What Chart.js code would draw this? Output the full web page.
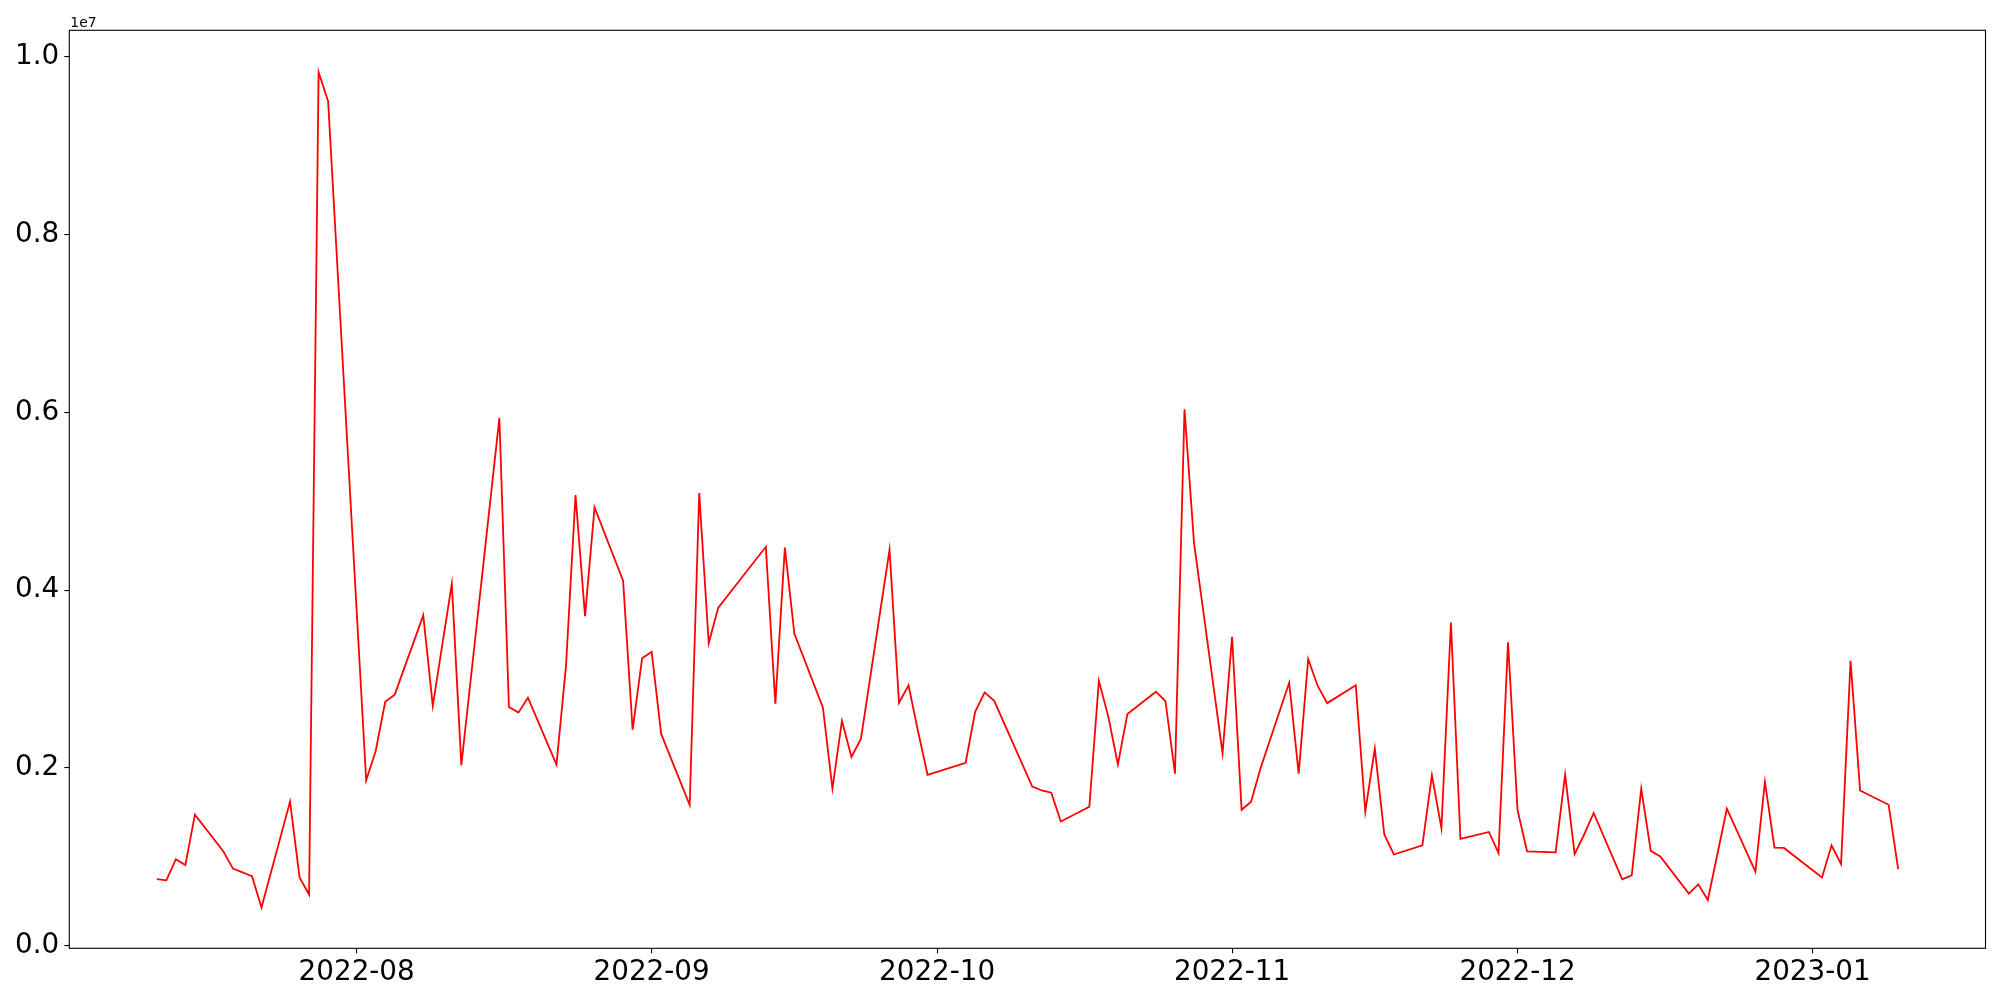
<!DOCTYPE html>
<html>
<head>
<meta charset="utf-8">
<script src="https://cdn.jsdelivr.net/npm/chart.js@4.4.0/dist/chart.umd.min.js"></script>
<style>
  body { margin: 0; background: white; }
  #grafico { display: block; }
</style>
</head>
<body>
<canvas id="grafico" width="2000" height="1000"></canvas>
<script>
// datas (dias úteis) e valores
var datas = [
  '2022-07-11','2022-07-12','2022-07-13','2022-07-14','2022-07-15','2022-07-18','2022-07-19','2022-07-21','2022-07-22',
  '2022-07-25','2022-07-26','2022-07-27','2022-07-28','2022-07-29','2022-08-02','2022-08-03','2022-08-04','2022-08-05',
  '2022-08-08','2022-08-09','2022-08-11','2022-08-12','2022-08-16','2022-08-17','2022-08-18','2022-08-19',
  '2022-08-22','2022-08-23','2022-08-24','2022-08-25','2022-08-26','2022-08-29','2022-08-30','2022-08-31','2022-09-01','2022-09-02',
  '2022-09-05','2022-09-06','2022-09-07','2022-09-08','2022-09-13','2022-09-14','2022-09-15','2022-09-16',
  '2022-09-19','2022-09-20','2022-09-21','2022-09-22','2022-09-23','2022-09-26','2022-09-27','2022-09-28','2022-09-29','2022-09-30',
  '2022-10-04','2022-10-05','2022-10-06','2022-10-07','2022-10-11','2022-10-12','2022-10-13','2022-10-14',
  '2022-10-17','2022-10-18','2022-10-19','2022-10-20','2022-10-21','2022-10-24','2022-10-25','2022-10-26','2022-10-27','2022-10-28',
  '2022-10-31','2022-11-01','2022-11-02','2022-11-03','2022-11-04','2022-11-07','2022-11-08','2022-11-09','2022-11-10','2022-11-11',
  '2022-11-14','2022-11-15','2022-11-16','2022-11-17','2022-11-18','2022-11-21','2022-11-22','2022-11-23','2022-11-24','2022-11-25',
  '2022-11-28','2022-11-29','2022-11-30','2022-12-01','2022-12-02','2022-12-05','2022-12-06','2022-12-07','2022-12-08','2022-12-09',
  '2022-12-12','2022-12-13','2022-12-14','2022-12-15','2022-12-16','2022-12-19','2022-12-20','2022-12-21','2022-12-23',
  '2022-12-26','2022-12-27','2022-12-28','2022-12-29','2023-01-02','2023-01-03','2023-01-04','2023-01-05','2023-01-06',
  '2023-01-09','2023-01-10'
];
var valores = [
  748000, 735000, 973000, 907000, 1475000, 1059000, 867000, 781000, 431000,
  1621000, 767000, 576000, 9825000, 9500000, 1859000, 2190000, 2744000, 2824000,
  3716000, 2698000, 4073000, 2031000, 5937000, 2686000, 2622000, 2790000,
  2038000, 3147000, 5069000, 3708000, 4929000, 4105000, 2430000, 3234000, 3307000, 2382000,
  1583000, 5092000, 3404000, 3803000, 4487000, 2722000, 4478000, 3511000,
  2677000, 1768000, 2529000, 2123000, 2328000, 4454000, 2733000, 2930000, 2410000, 1923000,
  2058000, 2632000, 2849000, 2754000, 1791000, 1746000, 1721000, 1398000,
  1563000, 2979000, 2574000, 2038000, 2607000, 2857000, 2750000, 1935000, 6035000, 4532000,
  2165000, 3475000, 1529000, 1620000, 2000000, 2959000, 1935000, 3226000, 2922000, 2729000,
  2930000, 1509000, 2218000, 1251000, 1026000, 1129000, 1918000, 1321000, 3635000, 1202000,
  1280000, 1042000, 3414000, 1526000, 1062000, 1050000, 1923000, 1030000, 1251000, 1493000,
  747000, 792000, 1766000, 1067000, 1005000, 587000, 690000, 514000, 1541000,
  834000, 1845000, 1104000, 1100000, 767000, 1129000, 919000, 3204000, 1746000,
  1586000, 862000
];
var ticksMeses = ['2022-08','2022-09','2022-10','2022-11','2022-12','2023-01'];
var ticksY = [0, 2000000, 4000000, 6000000, 8000000, 10000000];

function dia(s) {
  var p = s.split('-');
  return Date.UTC(+p[0], +p[1] - 1, p[2] ? +p[2] : 1) / 86400000;
}
function rotulo(d) {
  var t = new Date(d * 86400000);
  var m = t.getUTCMonth() + 1;
  return t.getUTCFullYear() + '-' + (m < 10 ? '0' + m : m);
}

var pontos = datas.map(function (d, i) { return { x: dia(d), y: valores[i] }; });
var ago = dia('2022-08-01');
var fonte = { family: 'DejaVu Sans', size: 27.8 };

// moldura + "1e7"
var moldura = {
  id: 'moldura',
  afterDraw: function (chart) {
    var a = chart.chartArea, ctx = chart.ctx;
    ctx.save();
    ctx.strokeStyle = 'black';
    ctx.lineWidth = 1.1;
    ctx.strokeRect(a.left, a.top, a.right - a.left, a.bottom - a.top);
    ctx.fillStyle = 'black';
    ctx.font = '13.9px "DejaVu Sans"';
    ctx.textAlign = 'left';
    ctx.textBaseline = 'alphabetic';
    ctx.fillText('1e7', a.left + 1, 26.5);
    ctx.restore();
  }
};

var Grafico = document.getElementById('grafico');
new Chart(Grafico, {
  type: 'line',
  data: {
    datasets: [{
      data: pontos,
      borderColor: 'red',
      borderWidth: 1.8,
      pointRadius: 0,
      tension: 0,
      fill: false
    }]
  },
  options: {
    responsive: false,
    animation: false,
    layout: { padding: { left: 0, top: 30.3, right: 14.5, bottom: 0 } },
    plugins: { legend: { display: false }, tooltip: { enabled: false } },
    scales: {
      x: {
        type: 'linear',
        min: ago - 30.2,
        max: ago + 171.18,
        afterBuildTicks: function (ax) {
          ax.ticks = ticksMeses.map(function (m) { return { value: dia(m) }; });
        },
        afterFit: function (ax) { ax.height = 51.7; },
        grid: { display: true, drawOnChartArea: false, drawTicks: true, tickLength: 5, color: 'black', lineWidth: 1.1 },
        border: { display: false },
        ticks: {
          color: 'black', font: fonte, padding: 3, maxRotation: 0, autoSkip: false,
          callback: function (v) { return rotulo(v); }
        }
      },
      y: {
        min: -29000,
        max: 10297000,
        afterBuildTicks: function (ax) {
          ax.ticks = ticksY.map(function (v) { return { value: v }; });
        },
        afterFit: function (ax) { ax.width = 69.3; },
        grid: { display: true, drawOnChartArea: false, drawTicks: true, tickLength: 5, color: 'black', lineWidth: 1.1 },
        border: { display: false },
        ticks: {
          color: 'black', font: fonte, padding: 5,
          callback: function (v) { return (v / 1e7).toFixed(1); }
        }
      }
    }
  },
  plugins: [moldura]
});
</script>
</body>
</html>
